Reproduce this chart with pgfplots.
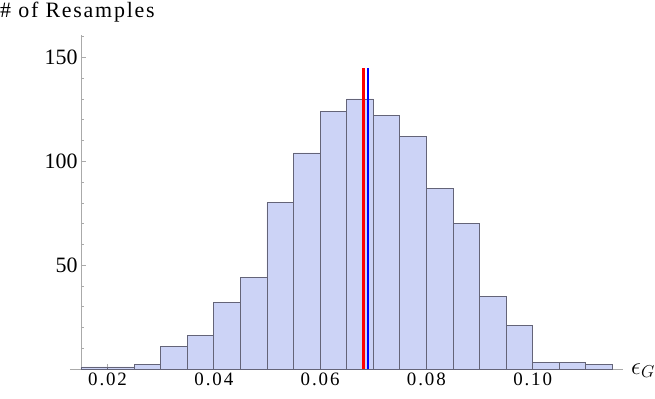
\documentclass[border=0pt]{standalone}
\usepackage{pgfplots}
\pgfplotsset{compat=1.18}
\usepackage{fontspec}
\setmainfont{Liberation Serif}
\newfontfamily\spacedfont[LetterSpace=8]{Liberation Serif}
\newfontfamily\xtfont[LetterSpace=10]{Liberation Serif}
\definecolor{barfill}{RGB}{204,211,246}
\definecolor{baredge}{RGB}{100,100,120}
\definecolor{axgray}{RGB}{170,170,170}
\begin{document}
\begin{tikzpicture}
\begin{axis}[
  scale only axis, width=542bp, height=334bp,
  xmin=0.015, xmax=0.117, ymin=0, ymax=160.8,
  axis x line=bottom, axis y line=left,
  axis line style={axgray, line width=0.8bp, -},
  /pgf/number format/assume math mode=true,
  xtick={0.02,0.04,0.06,0.08,0.10},
  xticklabels={0.02,0.04,0.06,0.08,0.10},
  minor xtick={0.025,0.03,0.035,0.045,0.05,0.055,0.065,0.07,0.075,0.085,0.09,0.095,0.105,0.11,0.115},
  ytick={50,100,150},
  yticklabels={50,100,150},
  minor ytick={10,20,30,40,60,70,80,90,110,120,130,140,160},
  tick align=inside,
  major tick length=5bp, minor tick length=3bp,
  tick style={axgray, line width=0.6bp},
  y tick label style={font=\fontsize{22}{22}\selectfont},
  x tick label style={font=\xtfont\fontsize{19}{19}\selectfont},
  clip=false,
]
\addplot[ybar interval, fill=barfill, draw=baredge, line width=0.8bp] coordinates {
(0.015,1) (0.020,1) (0.025,2) (0.030,11) (0.035,16) (0.040,32) (0.045,44)
(0.050,80) (0.055,104) (0.060,124) (0.065,130) (0.070,122) (0.075,112)
(0.080,87) (0.085,70) (0.090,35) (0.095,21) (0.100,3) (0.105,3) (0.110,2) (0.115,2)};
\addplot[red, line width=2.6bp] coordinates {(0.0682,0) (0.0682,145)};
\addplot[blue, line width=2.6bp] coordinates {(0.0690,0) (0.0690,145)};
\draw[axgray, line width=0.8bp] (axis cs:0.01293,0) -- (axis cs:0.015,0);
\end{axis}
\node[anchor=base west, inner sep=0pt, font=\spacedfont\fontsize{22}{22}\selectfont] at (-81bp,351bp) {\# of Resamples};
\node[anchor=base west, inner sep=0pt, font=\fontsize{27}{27}\selectfont] at (550bp,-5bp) {$\epsilon_G$};
\pgfresetboundingbox
\path[use as bounding box] (-81bp,-30bp) rectangle (574bp,369bp);
\end{tikzpicture}
\end{document}
